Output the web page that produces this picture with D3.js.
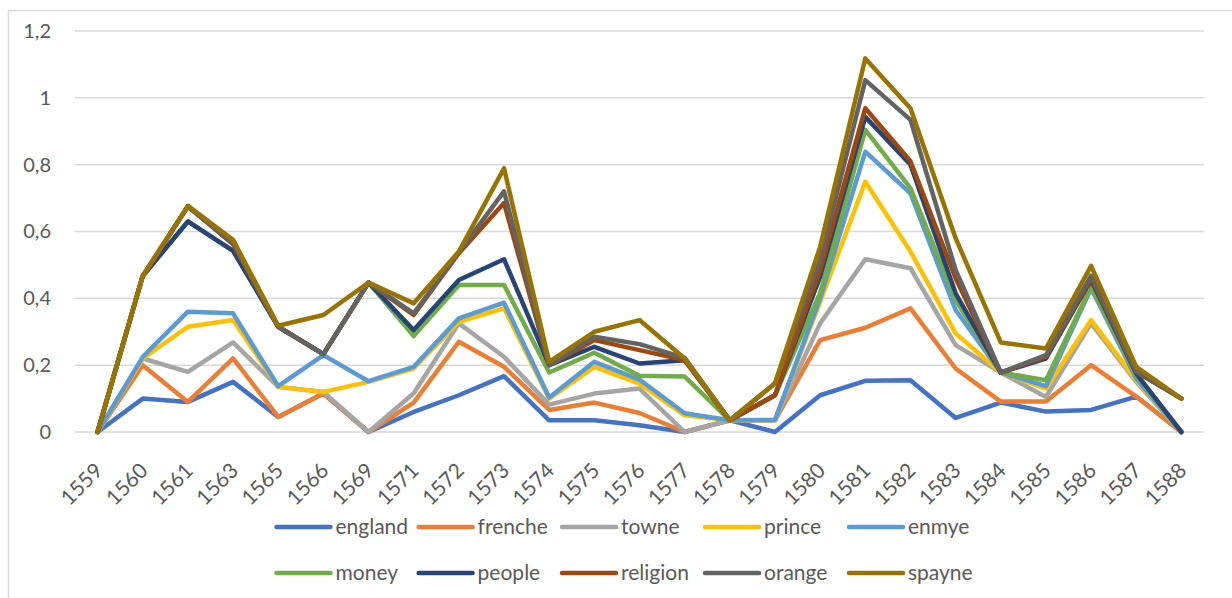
<!DOCTYPE html>
<html>
<head>
<meta charset="utf-8">
<script src="https://cdn.jsdelivr.net/npm/d3@7"></script>
<style>
  html, body { margin: 0; padding: 0; background: #fff; }
  svg { display: block; font-family: Lato, "Open Sans", sans-serif; }
</style>
</head>
<body>
<svg id="chart" width="1232" height="598"></svg>
<script>
// Years on the category axis
const years = ["1559","1560","1561","1563","1565","1566","1569","1571","1572","1573","1574","1575","1576","1577","1578","1579","1580","1581","1582","1583","1584","1585","1586","1587","1588"];

// Relative word frequency per year
const england  = [0, 0.10, 0.09, 0.15, 0.045, 0.115, 0, 0.06, 0.11, 0.167, 0.035, 0.035, 0.02, 0, 0.035, 0, 0.11, 0.153, 0.155, 0.042, 0.088, 0.061, 0.066, 0.106, 0];
const frenche  = [0, 0.20, 0.09, 0.22, 0.045, 0.115, 0, 0.088, 0.27, 0.195, 0.066, 0.088, 0.057, 0, 0.035, 0.035, 0.275, 0.312, 0.37, 0.19, 0.091, 0.091, 0.20, 0.106, 0];
const towne    = [0, 0.22, 0.18, 0.268, 0.135, 0.12, 0, 0.116, 0.325, 0.225, 0.082, 0.115, 0.13, 0, 0.035, 0.035, 0.325, 0.517, 0.49, 0.26, 0.178, 0.105, 0.325, 0.15, 0];
const prince   = [0, 0.22, 0.315, 0.335, 0.135, 0.12, 0.15, 0.19, 0.33, 0.37, 0.10, 0.195, 0.145, 0.05, 0.035, 0.035, 0.39, 0.749, 0.54, 0.295, 0.178, 0.13, 0.335, 0.155, 0];
const enmye    = [0, 0.225, 0.36, 0.355, 0.137, 0.23, 0.152, 0.195, 0.34, 0.387, 0.103, 0.21, 0.157, 0.056, 0.035, 0.036, 0.40, 0.839, 0.714, 0.365, 0.178, 0.137, 0.43, 0.16, 0];
const money    = [0, 0.467, 0.63, 0.542, 0.315, 0.233, 0.447, 0.287, 0.44, 0.44, 0.178, 0.237, 0.168, 0.166, 0.035, 0.11, 0.416, 0.904, 0.73, 0.395, 0.178, 0.155, 0.435, 0.17, 0];
const people   = [0, 0.467, 0.63, 0.542, 0.315, 0.233, 0.447, 0.305, 0.455, 0.517, 0.20, 0.255, 0.205, 0.215, 0.035, 0.11, 0.465, 0.943, 0.80, 0.415, 0.178, 0.22, 0.455, 0.175, 0];
const religion = [0, 0.467, 0.675, 0.562, 0.315, 0.233, 0.447, 0.35, 0.535, 0.685, 0.20, 0.275, 0.245, 0.215, 0.035, 0.11, 0.485, 0.969, 0.81, 0.46, 0.178, 0.225, 0.46, 0.18, 0.10];
const orenge   = [0, 0.467, 0.675, 0.565, 0.315, 0.233, 0.447, 0.355, 0.538, 0.72, 0.20, 0.285, 0.263, 0.222, 0.035, 0.145, 0.515, 1.053, 0.934, 0.485, 0.178, 0.23, 0.468, 0.18, 0.10];
const spayne   = [0, 0.467, 0.677, 0.575, 0.318, 0.35, 0.447, 0.385, 0.54, 0.789, 0.21, 0.30, 0.335, 0.22, 0.035, 0.146, 0.554, 1.118, 0.969, 0.58, 0.268, 0.25, 0.497, 0.195, 0.10];

const seriesLabels = ["england","frenche","towne","prince","enmye","money","people","religion","orange","spayne"];
const seriesValues = [england, frenche, towne, prince, enmye, money, people, religion, orenge, spayne];
const seriesColors = ["#4472C4","#ED7D31","#A5A5A5","#FFC000","#5B9BD5","#70AD47","#264478","#9E480E","#636363","#997300"];

const yTicks = [0, 0.2, 0.4, 0.6, 0.8, 1, 1.2];

const svg = d3.select("#chart");
const textColor = "#595959";
const gridColor = "#D9D9D9";

// Chart frame
svg.append("rect")
  .attr("x", 8.5).attr("y", 10.5)
  .attr("width", 1260).attr("height", 620)
  .attr("fill", "none").attr("stroke", gridColor).attr("stroke-width", 1.5);

const plot = { left: 75, right: 1204, top: 31, bottom: 432 };

const x = d3.scalePoint().domain(years).range([plot.left, plot.right]).padding(0.5);
const y = d3.scaleLinear().domain([0, 1.2]).range([plot.bottom, plot.top]);

const locale = d3.formatLocale({ decimal: ",", thousands: ".", grouping: [3], currency: ["", ""] });
const fmt = v => locale.format("~g")(v);

// Horizontal gridlines
svg.append("g")
  .selectAll("line")
  .data(yTicks)
  .join("line")
  .attr("x1", plot.left).attr("x2", plot.right)
  .attr("y1", d => y(d)).attr("y2", d => y(d))
  .attr("stroke", gridColor).attr("stroke-width", 1.5);

// Y axis labels
const yAxis = svg.append("g")
  .attr("transform", `translate(${plot.left},0)`)
  .call(d3.axisLeft(y).tickValues(yTicks).tickFormat(fmt).tickSize(0).tickPadding(24));
yAxis.select(".domain").remove();
yAxis.selectAll("text")
  .attr("fill", textColor)
  .style("font-size", "20px")
  .style("font-family", "Lato, sans-serif");

// X axis labels, rotated
const xAxis = svg.append("g")
  .attr("transform", `translate(0,${plot.bottom})`)
  .call(d3.axisBottom(x).tickSize(0).tickPadding(0));
xAxis.select(".domain").remove();
xAxis.selectAll("text")
  .attr("fill", textColor)
  .style("font-size", "21px")
  .style("font-family", "Lato, sans-serif")
  .attr("text-anchor", "end")
  .attr("dy", null)
  .attr("y", null)
  .attr("transform", "translate(6,40) rotate(-45)");

// Series lines
const line = d3.line()
  .x((d, i) => x(years[i]))
  .y(d => y(d));

svg.append("g")
  .selectAll("path")
  .data(seriesValues)
  .join("path")
  .attr("d", d => line(d))
  .attr("fill", "none")
  .attr("stroke", (d, i) => seriesColors[i])
  .attr("stroke-width", 4.5)
  .attr("stroke-linejoin", "round")
  .attr("stroke-linecap", "round");

// Legend: two rows of five
const legendCols = [276.5, 418.6, 562, 705, 849];
const legendRows = [527, 573];
const legend = svg.append("g")
  .selectAll("g")
  .data(seriesLabels)
  .join("g")
  .attr("transform", (d, i) => `translate(${legendCols[i % 5]},${legendRows[Math.floor(i / 5)]})`);

legend.append("line")
  .attr("x1", 0).attr("x2", 54)
  .attr("y1", 0).attr("y2", 0)
  .attr("stroke", (d, i) => seriesColors[i])
  .attr("stroke-width", 4.5)
  .attr("stroke-linecap", "round");

legend.append("text")
  .attr("x", 59)
  .attr("y", 0)
  .attr("dy", "0.35em")
  .attr("fill", textColor)
  .style("font-size", "21px")
  .text(d => d);
</script>
</body>
</html>
